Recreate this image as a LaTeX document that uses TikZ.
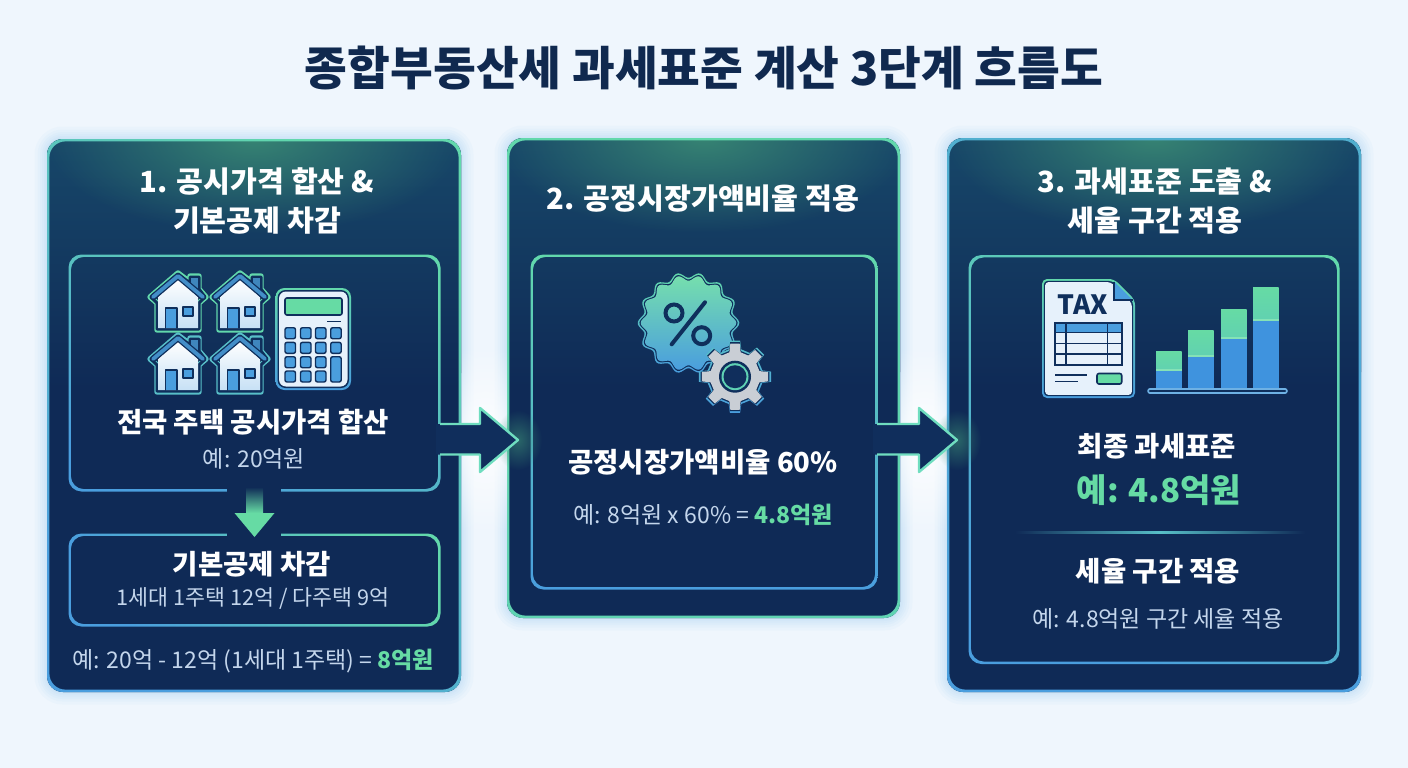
\documentclass[tikz,border=0pt]{standalone}
\usepackage{fontspec}
\setmainfont{Noto Sans CJK KR}
\usetikzlibrary{fadings,calc}

\definecolor{pagebg}{HTML}{EFF6FD}
\definecolor{titleink}{HTML}{10294F}
\definecolor{navy}{HTML}{0F2A56}
\definecolor{navymid}{HTML}{102E5C}
\definecolor{navytop}{HTML}{174769}
\definecolor{iconink}{HTML}{0F2F5C}
\definecolor{glowteal}{HTML}{3A8A74}
\definecolor{rimgreen}{HTML}{62D8AC}
\definecolor{rimteal}{HTML}{58BFC8}
\definecolor{rimblue}{HTML}{4A9EDE}
\definecolor{barblue}{HTML}{3F93DE}
\definecolor{arrowrim}{HTML}{6FDDBF}
\definecolor{keygreen}{HTML}{66DBA4}
\definecolor{softtext}{HTML}{C4D6EC}
\definecolor{paper}{HTML}{E6F1FB}
\definecolor{gearsteel}{HTML}{C9CED5}
\definecolor{hazeblue}{HTML}{8CC6F0}

\tikzfading[name=softglow, inner color=transparent!10, outer color=transparent!100]

\tikzset{
  panelbox/.style={rectangle,inner sep=0pt,outer sep=0pt},
  innerbox/.style={rectangle,inner sep=0pt,outer sep=0pt},
  titletext/.style={text=titleink,font=\fontsize{46.5}{50}\selectfont\bfseries},
  headtext/.style={text=white,align=center,font=\fontsize{29.2}{39}\selectfont\bfseries},
  boldtext/.style={text=white,font=\fontsize{27.5}{32}\selectfont\bfseries},
  subtext/.style={text=softtext,font=\fontsize{23}{26}\selectfont},
  keytext/.style={text=keygreen,font=\fontsize{33}{38}\selectfont\bfseries},
}

% gradient outline of a named box
\newcommand{\ringbox}[3]{
  \shade[even odd rule,rounded corners=#2,#3] (#1.north west) rectangle (#1.south east)
     ([xshift=2.4pt,yshift=-2.4pt]#1.north west) rectangle ([xshift=-2.4pt,yshift=2.4pt]#1.south east);
}
% haze around a panel, then its body and the glow along its top
\newcommand{\panelbody}[1]{
  \foreach \w in {3,6,10,14,19,25}
    \draw[hazeblue,opacity=.06,line width=\w pt,rounded corners=16pt] (#1.north west) rectangle (#1.south east);
  \fill[navy,rounded corners=16pt] (#1.north west) rectangle (#1.south east);
  \shade[top color=navytop,bottom color=navy,rounded corners=16pt] (#1.north west) rectangle ([yshift=-250pt]#1.north east);
  \begin{scope}
    \clip[rounded corners=16pt] (#1.north west) rectangle (#1.south east);
    \fill[glowteal,path fading=softglow] (#1.north) ellipse (210pt and 95pt);
  \end{scope}
}
% block arrow: tail is on the box edge, tip is free
\newcommand{\blockarrow}[2]{
  \begin{scope}
    \clip ($(#2)+(-56,-120)$) rectangle ($(#2)+(-11,120)$);
    \fill[white,path fading=softglow] ($(#2)+(-33,0)$) ellipse (80pt and 95pt);
  \end{scope}
  \fill[glowteal,path fading=softglow,opacity=.7] (#2) ellipse (24pt and 30pt);
  \fill[navymid] ($(#1)+(-3,-16)$) -- ($(#2)+(-38,-16)$) -- ($(#2)+(-38,-32)$) -- (#2)
     -- ($(#2)+(-38,32)$) -- ($(#2)+(-38,14.5)$) -- ($(#1)+(-3,14.5)$) -- cycle;
  \draw[arrowrim,line width=2.4pt,line join=round] ($(#1)+(0,-16)$) -- ($(#2)+(-38,-16)$) -- ($(#2)+(-38,-32)$) -- (#2)
     -- ($(#2)+(-38,32)$) -- ($(#2)+(-38,14.5)$) -- ($(#1)+(0,14.5)$);
}
\newcommand{\badgepath}[1]{plot[domain=0:359,samples=140] (\x:{#1+2.8*cos(14*\x)}) -- cycle}
\newcommand{\gearpath}[1]{(-14:{25+#1}) \foreach \a in {0,45,...,315}{ -- (\a-13:{25+#1}) -- (\a-8:{33.5+#1}) -- (\a+8:{33.5+#1}) -- (\a+13:{25+#1}) } -- cycle}
\newcommand{\docpath}[1]{({1042+#1},{279+#1}) -- ({1114-#1},{279+#1}) -- ({1135-#1},{300+#1}) -- ({1135-#1},{398-#1}) -- ({1042+#1},{398-#1}) -- cycle}

\begin{document}
\begin{tikzpicture}[x=1pt,y=-1pt]
\useasboundingbox (0,0) rectangle (1408,768);
\fill[pagebg] (0,0) rectangle (1408,768);

\node (title) [titletext] at (704,68) {종합부동산세 과세표준 계산 3단계 흐름도};

% panels
\node (panela) [panelbox,minimum width=414pt,minimum height=553pt] at (254,415.5) {};
\node (panelb) [panelbox,minimum width=393pt,minimum height=480pt] at (703.5,378) {};
\node (panelc) [panelbox,minimum width=414pt,minimum height=554pt] at (1154,415) {};
\panelbody{panela}
\panelbody{panelb}
\panelbody{panelc}
\ringbox{panela}{16pt}{top color=rimgreen,bottom color=rimblue,shading angle=-40}
\ringbox{panelb}{16pt}{top color=rimgreen,bottom color=rimgreen!80!rimteal}
\ringbox{panelc}{16pt}{top color=rimblue!70!rimgreen,bottom color=rimblue}

% inner boxes
\node (boxa) [innerbox,minimum width=372pt,minimum height=237pt] at (254.5,373) {};
\node (boxb) [innerbox,minimum width=372pt,minimum height=93pt] at (254.5,580) {};
\node (boxc) [innerbox,minimum width=347pt,minimum height=335pt] at (704,422) {};
\node (boxd) [innerbox,minimum width=371pt,minimum height=409pt] at (1154,459.5) {};
\ringbox{boxa}{13pt}{top color=rimgreen,bottom color=rimblue,shading angle=-25}
\ringbox{boxb}{13pt}{top color=rimgreen,bottom color=rimblue,shading angle=-55}
\ringbox{boxc}{13pt}{top color=rimgreen,bottom color=rimblue}
\ringbox{boxd}{13pt}{top color=rimgreen,bottom color=rimblue,shading angle=-30}

% arrows
\coordinate (taila) at (440,440);
\coordinate (tipa) at (518,440);
\coordinate (tailb) at (877,440);
\coordinate (tipb) at (957,440);
\fill[navymid] (436,424) rectangle (446,454);
\fill[navymid] (873,424) rectangle (883,454);
\blockarrow{taila}{tipa}
\blockarrow{tailb}{tipb}

\fill[navy] (227,486) rectangle (281,496);
\fill[navy] (227,530) rectangle (281,538);
\coordinate (taildown) at (254.5,487);
\coordinate (tipdown) at (254.5,537);
\shade[top color=navy,bottom color=keygreen] ($(taildown)+(-8.5,0)$) rectangle ($(taildown)+(8.5,26)$);
\fill[keygreen] (tipdown) -- ($(tipdown)+(-20,-24)$) -- ($(tipdown)+(20,-24)$) -- cycle;

% houses
\foreach \hx/\hy/\rim in {178/273/rimgreen,240/273/rimgreen,178/335/rimteal,240/335/rimteal}{
  \begin{scope}[shift={(\hx,\hy)},line join=round,line cap=round]
    \draw[\rim,line width=5.4pt] (0,0) -- (12,9) -- (12,3) -- (21,3) -- (21,16) -- (28,24) -- (21,30) -- (21,57) -- (-21,57) -- (-21,30) -- (-28,24) -- cycle;
    \draw[iconink,line width=3pt] (0,1) -- (12,10) -- (12,4) -- (21,4) -- (21,16) -- (27,24) -- (21,30) -- (21,56) -- (-21,56) -- (-21,30) -- (-27,24) -- cycle;
    \shade[top color=white,bottom color=paper!80!rimblue] (0,6) -- (20,24) -- (20,55) -- (-20,55) -- (-20,24) -- cycle;
    \fill[rimblue!85!black] (13,5) rectangle (20,17);
    \draw[iconink,line width=6.4pt] (-25,24) -- (0,3) -- (25,24);
    \draw[rimblue!90!black,line width=3.8pt] (-25,24) -- (0,3) -- (25,24);
    \draw[iconink,line width=1.6pt,fill=rimblue] (-12.5,55) -- (-12.5,35) -- (-1,35) -- (-1,55);
    \draw[iconink,line width=1.6pt,fill=rimblue] (5,34) rectangle (15,43);
  \end{scope}
}

% calculator
\shade[top color=rimgreen,bottom color=rimblue,rounded corners=9pt] (275.5,288) rectangle (351,390);
\fill[iconink,rounded corners=8pt] (277.5,290) rectangle (349,388);
\fill[paper,rounded corners=7pt] (279,291.5) rectangle (347.5,386.5);
\draw[iconink,line width=1.6pt,fill=keygreen,rounded corners=2pt] (285,298) rectangle (342,315);
\draw[iconink,line width=1.4pt] (327,321.7) -- (341,321.7);
\foreach \bx in {285,300.5,315.5,330.7}
  \foreach \by in {327.7,342.3}
    \draw[iconink,line width=1.4pt,fill=rimblue,rounded corners=2pt] (\bx,\by) rectangle ++(10.5,11);
\foreach \bx in {285,300.5,315.5}
  \foreach \by in {356.7,371}
    \draw[iconink,line width=1.4pt,fill=rimblue,rounded corners=2pt] (\bx,\by) rectangle ++(10.5,11);
\draw[iconink,line width=1.4pt,fill=rimblue,rounded corners=2pt] (330.7,356.7) rectangle (341.2,382);

% percent badge and gear
\begin{scope}[shift={(688.5,323)}]
  \shade[top color=rimgreen,bottom color=rimblue] \badgepath{48};
  \fill[iconink] \badgepath{46.3};
  \shade[top color=keygreen!90!white,middle color=keygreen!70!rimteal,bottom color=rimblue] \badgepath{45};
  \draw[iconink,line width=4pt] (-14.5,-10) circle (8.5pt);
  \draw[iconink,line width=4pt] (13.2,12.7) circle (8.5pt);
  \draw[iconink,line width=4pt,line cap=round] (16.5,-20.7) -- (-16.8,21.3);
\end{scope}
\begin{scope}[shift={(735,376.7)},line join=round]
  \shade[top color=rimteal,bottom color=rimblue] \gearpath{3};
  \fill[iconink] \gearpath{1.3};
  \fill[gearsteel] \gearpath{0};
  \fill[iconink] (0,0) circle (16pt);
  \fill[rimgreen!70!rimteal] (0,0) circle (13.5pt);
  \fill[navymid] (0,0) circle (11.5pt);
\end{scope}

% tax sheet
\shade[top color=rimgreen,bottom color=rimblue,rounded corners=5pt] \docpath{0};
\fill[iconink,rounded corners=4pt] \docpath{1.8};
\fill[paper,rounded corners=3pt] \docpath{3.2};
\fill[rimblue,line join=round] (1114,281.5) -- (1132.5,300) -- (1114,300) -- cycle;
\draw[iconink,line width=1.4pt] (1114,281.5) -- (1114,300) -- (1132.5,300);
\node (taxmark) [text=iconink,font=\fontsize{26.5}{28}\selectfont\bfseries] at (1082.5,305) {TAX};
\fill[rimblue] (1055,322.7) rectangle (1121.7,332.7);
\draw[iconink,line width=1.7pt] (1055,322.7) rectangle (1121.7,365);
\foreach \ry in {332.7,343.3,354}
  \draw[iconink,line width=1.3pt] (1055,\ry) -- (1121.7,\ry);
\foreach \rx in {1066,1107.3}
  \draw[iconink,line width=1.3pt] (\rx,322.7) -- (\rx,365);
\draw[iconink,line width=1.5pt] (1055,375) -- (1086.7,375);
\draw[iconink,line width=1.5pt] (1055,381.7) -- (1078,381.7);
\draw[iconink,line width=1.6pt,fill=keygreen,rounded corners=2pt] (1097,373.5) rectangle (1121.7,384);

% bars
\foreach \bx/\btop/\bmid in {1156/351/370,1188/330/356,1221/309/338,1253/287/320}{
  \shade[top color=keygreen,bottom color=keygreen!65!rimteal] (\bx,\btop) rectangle ++(25.5,{\bmid-\btop});
  \fill[barblue] (\bx,\bmid) rectangle (\bx+25.5,389);
  \draw[keygreen!80!white,line width=1.4pt] (\bx,\bmid) -- ++(25.5,0);
}
\draw[rimblue!80!white,line width=5.6pt,line cap=round] (1150,391) -- (1285,391);
\draw[iconink,line width=2.4pt,line cap=round] (1150,391) -- (1285,391);

% divider
\shade[left color=navy,right color=navy,middle color=rimteal] (1015,531.5) rectangle (1305,533);

% texts
\node (heada) [headtext] at (257,201) {1. 공시가격 합산 \&\\기본공제 차감};
\node (headb) [headtext] at (703,199) {2. 공정시장가액비율 적용};
\node (headc) [headtext] at (1155,201) {3. 과세표준 도출 \&\\세율 구간 적용};
\node (suma) [boldtext] at (253,422) {전국 주택 공시가격 합산};
\node (sumex) [subtext] at (254,459) {예: 20억원};
\node (deda) [boldtext] at (252,564) {기본공제 차감};
\node (dedex) [subtext,font=\fontsize{21.7}{26}\selectfont] at (253,598) {1세대 1주택 12억 / 다주택 9억};
\node (resa) [subtext] at (253,661) {예: 20억 - 12억 (1세대 1주택) = \textcolor{keygreen}{\textbf{8억원}}};
\node (rate) [boldtext] at (703,462) {공정시장가액비율 60\%};
\node (ratex) [subtext] at (703,515) {예: 8억원 x 60\% = \textcolor{keygreen}{\textbf{4.8억원}}};
\node (base) [boldtext] at (1157,446) {최종 과세표준};
\node (basex) [keytext] at (1159,490) {예: 4.8억원};
\node (band) [boldtext] at (1158,571) {세율 구간 적용};
\node (bandx) [subtext] at (1158,619) {예: 4.8억원 구간 세율 적용};
\end{tikzpicture}
\end{document}
